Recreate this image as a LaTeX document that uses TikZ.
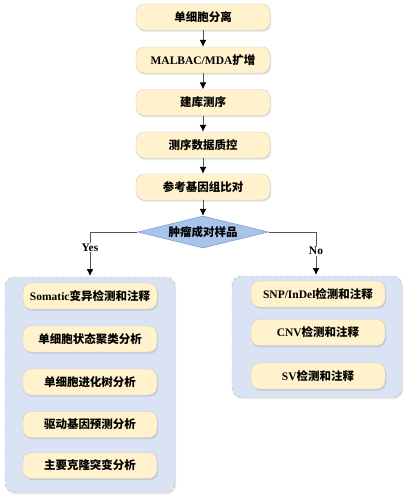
\documentclass[tikz,border=0pt]{standalone}
\usepackage{fontspec}
\setmainfont{Noto Sans CJK SC}
\newfontfamily\en{Liberation Serif}
\usetikzlibrary{shapes.geometric,shadows,arrows.meta}

\definecolor{boxfill}{HTML}{FFF2CC}
\definecolor{boxline}{HTML}{D0CCC0}
\definecolor{diafill}{HTML}{A9C4EB}
\definecolor{dialine}{HTML}{6C8EBF}
\definecolor{grpfill}{HTML}{DAE3F3}
\definecolor{grpline}{HTML}{B3B3B3}
\definecolor{linegray}{HTML}{555555}

\begin{document}
\begin{tikzpicture}[x=1pt,y=-1pt,
  stepbox/.style={draw=boxline, fill=boxfill, rounded corners=8pt,
    minimum width=134pt, minimum height=26pt, inner sep=1pt,
    font=\bfseries\fontsize{11.5}{13}\selectfont,
    drop shadow={opacity=0.25, shadow xshift=1pt, shadow yshift=-1.5pt}},
  groupbox/.style={draw=grpline, fill=grpfill, dashed, rounded corners=9pt,
    drop shadow={opacity=0.2, shadow xshift=1pt, shadow yshift=-2pt}},
  arr/.style={draw=linegray, line width=1pt,
    -{Latex[length=7pt,width=7pt,color=black]}},
  lbl/.style={fill=white, inner sep=1pt, font=\en\bfseries\fontsize{11.5}{13}\selectfont}]

\useasboundingbox (0,0) rectangle (413,501);

% main pipeline
\node[stepbox] (s1) at (203,17) {单细胞分离};
\node[stepbox] (s2) at (203,60) {{\en MALBAC/MDA}扩增};
\node[stepbox] (s3) at (203,102.5) {建库测序};
\node[stepbox] (s4) at (203,145) {测序数据质控};
\node[stepbox] (s5) at (203,187) {参考基因组比对};

\node[diamond, aspect=4.1, draw=dialine, fill=diafill, inner sep=0pt,
  minimum width=131pt, minimum height=32pt,
  font=\bfseries\fontsize{11.5}{13}\selectfont] (pair) at (203,232) {肿瘤成对样品};

\draw[arr] (s1) -- (s2);
\draw[arr] (s2) -- (s3);
\draw[arr] (s3) -- (s4);
\draw[arr] (s4) -- (s5);
\draw[arr] (s5) -- (pair);

% tumour pair branch
\draw[groupbox] (5,277) rectangle (175,492);
\coordinate (yesend) at (90,276);
\draw[arr] (pair.west) -| node[lbl, pos=0.675] {Yes} (yesend);

\node[stepbox] (t1) at (90,296) {{\en Somatic}变异检测和注释};
\node[stepbox] (t2) at (90,339) {单细胞状态聚类分析};
\node[stepbox] (t3) at (90,382) {单细胞进化树分析};
\node[stepbox] (t4) at (90,424.5) {驱动基因预测分析};
\node[stepbox] (t5) at (90,465.5) {主要克隆突变分析};

% single sample branch
\draw[groupbox] (232,276) rectangle (402,397);
\coordinate (noend) at (316,275);
\draw[arr] (pair.east) -| node[lbl, pos=0.72] {No} (noend);

\node[stepbox] (n1) at (318,294) {{\en SNP/InDel}检测和注释};
\node[stepbox] (n2) at (318,332.5) {{\en CNV}检测和注释};
\node[stepbox] (n3) at (318,376) {{\en SV}检测和注释};

\end{tikzpicture}
\end{document}
